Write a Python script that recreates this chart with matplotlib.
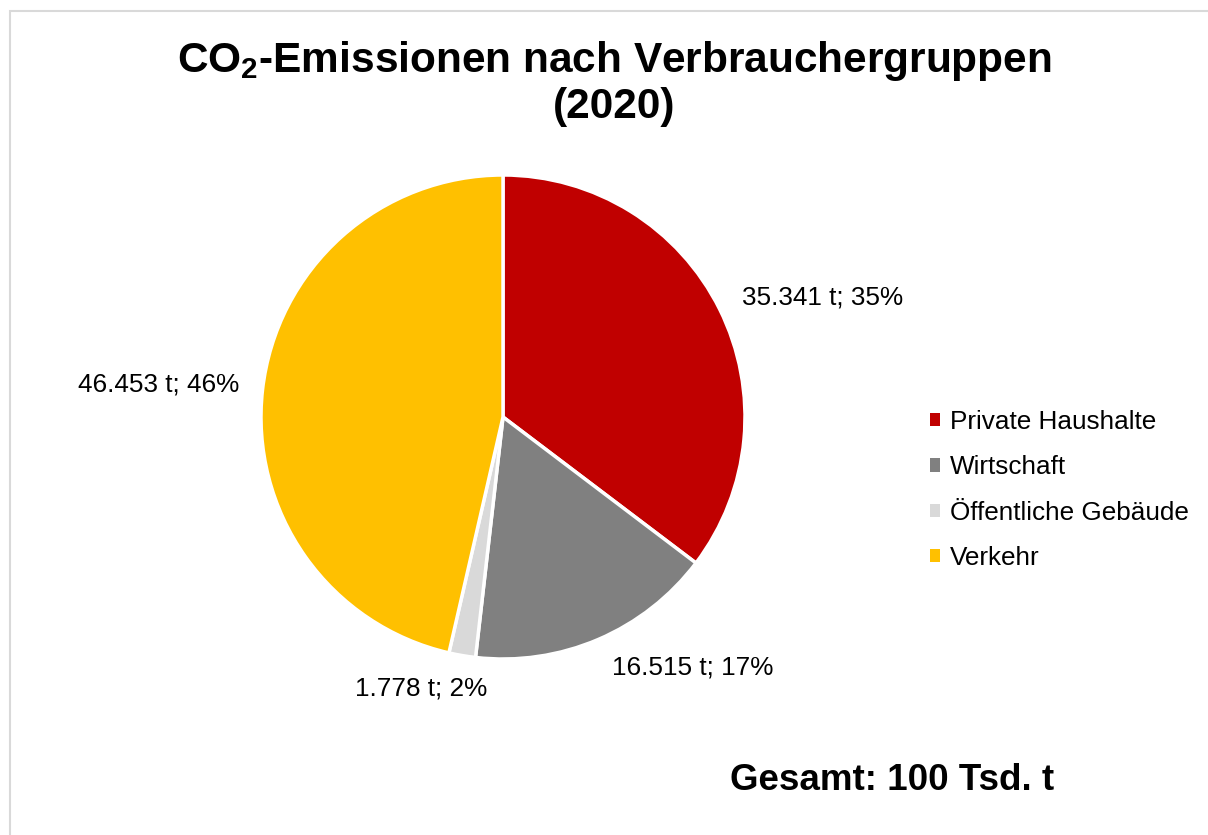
import numpy as np
from matplotlib import pyplot as plt
from matplotlib.patches import Rectangle, Patch

# data
groups = ["Private Haushalte", "Wirtschaft", "Öffentliche Gebäude", "Verkehr"]
emissions = [35341, 16515, 1778, 46453]
shares = [35, 17, 2, 46]
colors = ["#C00000", "#808080", "#D9D9D9", "#FFC000"]
total_label = "Gesamt: 100 Tsd. t"

plt.rcParams["font.family"] = ["Liberation Sans", "DejaVu Sans"]
plt.rcParams["mathtext.fontset"] = "custom"
plt.rcParams["mathtext.bf"] = "Liberation Sans:bold"
plt.rcParams["mathtext.rm"] = "Liberation Sans"

W, H = 1208, 835
fig = plt.figure(figsize=(W / 100, H / 100), dpi=100)

# light frame like the spreadsheet chart area
fig.patches.append(Rectangle((10 / W, -0.1), 1.2, (H - 11) / H + 0.1,
                             transform=fig.transFigure, fill=False,
                             edgecolor="#D9D9D9", linewidth=1.5))

cx, cy, r = 503, 417, 242
half = 300
ax = fig.add_axes([(cx - half) / W, (H - cy - half) / H, 2 * half / W, 2 * half / H])
wedges, _ = ax.pie(emissions, colors=colors, startangle=90, counterclock=False,
                   radius=1.0, wedgeprops=dict(edgecolor="white", linewidth=2.5))
lim = half / r
ax.set_xlim(-lim, lim)
ax.set_ylim(-lim, lim)
ax.set_aspect("equal")
ax.axis("off")

# label placement (distance factor, angle shift) per wedge
label_dist = [1.41, 1.30, 1.17, 1.43]
label_shift = [-6, 14, -7, 1]
for w, val, pct, d, s in zip(wedges, emissions, shares, label_dist, label_shift):
    ang = np.deg2rad((w.theta1 + w.theta2) / 2 + s)
    txt = f"{val:,} t; {pct}%".replace(",", ".")
    ax.text(d * np.cos(ang), d * np.sin(ang), txt, ha="center", va="center",
            fontsize=18.8, color="#000000")

fig.text(614 / W, 1 - 83 / H, r"CO$_\mathbf{2}$-Emissionen nach Verbrauchergruppen" + "\n(2020)",
         ha="center", va="center", fontsize=30.5, fontweight="bold", linespacing=1.12)

handles = [Patch(facecolor=c, edgecolor="none") for c in colors]
leg = fig.legend(handles, groups, loc="center left", bbox_to_anchor=(930 / W, 1 - 490 / H),
                 frameon=False, fontsize=18.8, handlelength=0.4, handleheight=0.4,
                 handletextpad=0.35, labelspacing=0.82, borderpad=0, borderaxespad=0)

fig.text(892 / W, 1 - 781 / H, total_label, ha="center", va="center",
         fontsize=26.5, fontweight="bold")

plt.savefig("out.png", dpi=100)
